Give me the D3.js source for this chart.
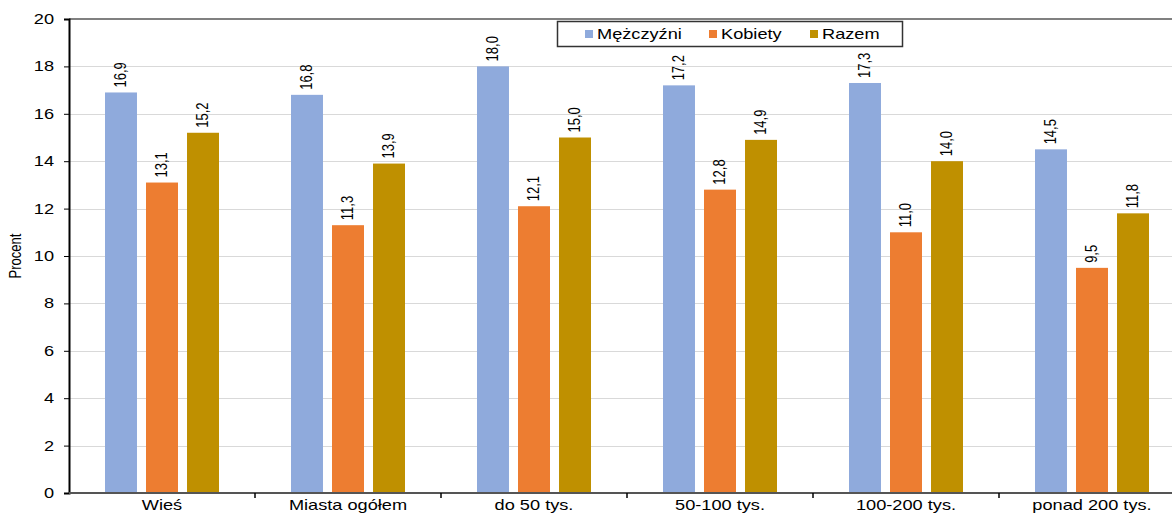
<!DOCTYPE html>
<html>
<head>
<meta charset="utf-8">
<script src="https://cdn.jsdelivr.net/npm/d3@7"></script>
<style>
  html, body { margin: 0; padding: 0; background: #fff; }
  svg { display: block; font-family: "Liberation Sans", Arial, sans-serif; }
</style>
</head>
<body>
<svg id="chart" width="1172" height="513"></svg>
<script>
// Categories: place of residence
const categories = ["Wieś", "Miasta ogółem", "do 50 tys.", "50-100 tys.", "100-200 tys.", "ponad 200 tys."];
// Series (percent)
const seriesNames = ["Mężczyźni", "Kobiety", "Razem"];
const men   = [16.9, 16.8, 18.0, 17.2, 17.3, 14.5];
const women = [13.1, 11.3, 12.1, 12.8, 11.0, 9.5];
const total = [15.2, 13.9, 15.0, 14.9, 14.0, 11.8];
const yTicks = [0, 2, 4, 6, 8, 10, 12, 14, 16, 18, 20];
const colors = ["#8faadc", "#ed7d31", "#bf9000"];

const series = [men, women, total];
const svg = d3.select("#chart");

// text in this chart is drawn wide (horizontal stretch)
const SX = 1.3;

const plotLeft = 69, plotRight = 1185, plotTop = 19, plotBottom = 493;

const x0 = d3.scaleBand().domain(categories).range([plotLeft, plotRight]).paddingInner(0).paddingOuter(0);
const x1 = d3.scaleBand().domain(seriesNames).range([36, x0.bandwidth() - 36]).paddingInner(0.22).paddingOuter(0);
const y = d3.scaleLinear().domain([0, 20]).range([plotBottom, plotTop]);

// horizontal gridlines
svg.append("g").selectAll("line").data(yTicks.filter(t => t > 0 && t < 20)).join("line")
  .attr("x1", plotLeft).attr("x2", 1172)
  .attr("y1", d => Math.round(y(d)) + 0.5).attr("y2", d => Math.round(y(d)) + 0.5)
  .attr("stroke", "#d9d9d9").attr("stroke-width", 1);

// top border of plot area
svg.append("line").attr("x1", plotLeft).attr("x2", 1172)
  .attr("y1", y(20)).attr("y2", y(20))
  .attr("stroke", "#808080").attr("stroke-width", 2);

// bars
const groups = svg.append("g").selectAll("g").data(categories).join("g")
  .attr("transform", c => `translate(${x0(c)},0)`);

groups.selectAll("rect").data((c, i) => seriesNames.map((s, j) => ({ s, j, v: series[j][i] }))).join("rect")
  .attr("x", d => x1(d.s))
  .attr("width", x1.bandwidth())
  .attr("y", d => y(d.v))
  .attr("height", d => y(0) - y(d.v))
  .attr("fill", d => colors[d.j]);

// value labels (rotated)
groups.selectAll("text").data((c, i) => seriesNames.map((s, j) => ({ s, j, v: series[j][i] }))).join("text")
  .attr("transform", d => `translate(${x1(d.s) + x1.bandwidth() / 2 + 5},${y(d.v) - 5}) scale(${SX},1) rotate(-90)`)
  .attr("text-anchor", "start")
  .attr("font-size", 13)
  .attr("fill", "#000")
  .text(d => d.v.toFixed(1).replace(".", ","));

// y axis
const yAxis = svg.append("g").attr("transform", `translate(${plotLeft},0)`)
  .call(d3.axisLeft(y).tickValues(yTicks).tickSize(5).tickPadding(0).tickFormat(d3.format("d")));
yAxis.select(".domain").attr("stroke", "#000").attr("stroke-width", 2);
yAxis.selectAll(".tick line").attr("stroke", "#000");
yAxis.selectAll(".tick text")
  .attr("x", 0)
  .attr("transform", `translate(-15,0) scale(${SX},1)`)
  .attr("font-size", 14).attr("fill", "#000").attr("font-family", "Liberation Sans, Arial, sans-serif");

// x axis
const xAxis = svg.append("g").attr("transform", `translate(0,${plotBottom})`)
  .call(d3.axisBottom(x0).tickSize(0).tickPadding(7));
xAxis.select(".domain").remove();
xAxis.selectAll(".tick text")
  .attr("transform", `scale(${SX},1)`)
  .attr("font-size", 14).attr("fill", "#000").attr("font-family", "Liberation Sans, Arial, sans-serif");
svg.append("line").attr("x1", plotLeft).attr("x2", 1172).attr("y1", plotBottom).attr("y2", plotBottom)
  .attr("stroke", "#555").attr("stroke-width", 2);
// category separators
svg.append("g").selectAll("line").data(categories.slice(1)).join("line")
  .attr("x1", c => x0(c)).attr("x2", c => x0(c))
  .attr("y1", plotBottom).attr("y2", plotBottom + 5)
  .attr("stroke", "#000").attr("stroke-width", 1.5);

// y axis title
svg.append("text")
  .attr("transform", `translate(21,${(plotTop + plotBottom) / 2}) scale(${SX},1) rotate(-90)`)
  .attr("text-anchor", "middle")
  .attr("font-size", 13)
  .text("Procent");

// legend
const lg = svg.append("g");
lg.append("rect").attr("x", 557.5).attr("y", 21.5).attr("width", 345).attr("height", 25)
  .attr("fill", "#fff").attr("stroke", "#333").attr("stroke-width", 1.5);
const legendX = [585, 709, 810];
seriesNames.forEach((s, j) => {
  lg.append("rect").attr("x", legendX[j]).attr("y", 30).attr("width", 8).attr("height", 8).attr("fill", colors[j]);
  lg.append("text")
    .attr("transform", `translate(${legendX[j] + 12},39) scale(${SX},1)`)
    .attr("font-size", 14).text(s);
});
</script>
</body>
</html>
